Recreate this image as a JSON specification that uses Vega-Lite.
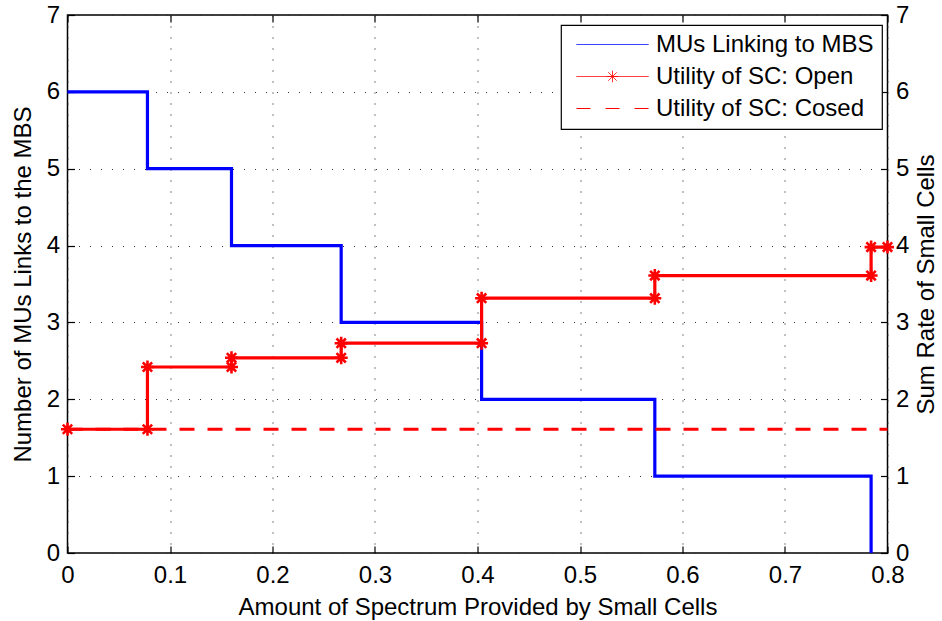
{
  "$schema": "https://vega.github.io/schema/vega-lite/v6.json",
  "width": 820,
  "height": 538,
  "autosize": {"type": "none"},
  "padding": {"left": 67.5, "top": 15, "right": 54.5, "bottom": 68},
  "background": "white",
  "config": {
    "font": "Liberation Sans",
    "view": {"stroke": "black", "strokeWidth": 1.5},
    "axis": {
      "domain": false,
      "labelFont": "Liberation Sans",
      "labelFontSize": 24,
      "labelColor": "black",
      "labelFlush": false,
      "labelOverlap": false,
      "titleFont": "Liberation Sans",
      "titleFontSize": 24,
      "titleFontWeight": "normal",
      "titleColor": "black",
      "tickColor": "black",
      "tickSize": -7,
      "tickWidth": 1.2,
      "labelPadding": 15,
      "gridColor": "#333333",
      "gridDash": [1, 10],
      "gridWidth": 1.2
    },
    "legend": {
      "orient": "none",
      "legendX": 493.5,
      "legendY": 10,
      "fillColor": "white",
      "strokeColor": "black",
      "strokeWidth": 1.2,
      "padding": 8,
      "labelFont": "Liberation Sans",
      "labelFontSize": 24,
      "labelColor": "black",
      "labelLimit": 400,
      "symbolType": "stroke",
      "symbolSize": 5184,
      "symbolStrokeWidth": 1,
      "symbolOffset": 7,
      "labelOffset": 7,
      "clipHeight": 23,
      "rowPadding": 7
    }
  },
  "datasets": {
    "mbs": [
      {"x": 0, "y": 6, "series": "MUs Linking to MBS"},
      {"x": 0.078, "y": 5, "series": "MUs Linking to MBS"},
      {"x": 0.16, "y": 4, "series": "MUs Linking to MBS"},
      {"x": 0.267, "y": 3, "series": "MUs Linking to MBS"},
      {"x": 0.404, "y": 2, "series": "MUs Linking to MBS"},
      {"x": 0.573, "y": 1, "series": "MUs Linking to MBS"},
      {"x": 0.784, "y": 0, "series": "MUs Linking to MBS"}
    ],
    "open": [
      {"i": 0, "x": 0, "y": 1.61, "series": "Utility of SC: Open"},
      {"i": 1, "x": 0.078, "y": 1.61, "series": "Utility of SC: Open"},
      {"i": 2, "x": 0.078, "y": 2.42, "series": "Utility of SC: Open"},
      {"i": 3, "x": 0.16, "y": 2.42, "series": "Utility of SC: Open"},
      {"i": 4, "x": 0.16, "y": 2.54, "series": "Utility of SC: Open"},
      {"i": 5, "x": 0.267, "y": 2.54, "series": "Utility of SC: Open"},
      {"i": 6, "x": 0.267, "y": 2.73, "series": "Utility of SC: Open"},
      {"i": 7, "x": 0.404, "y": 2.73, "series": "Utility of SC: Open"},
      {"i": 8, "x": 0.404, "y": 3.315, "series": "Utility of SC: Open"},
      {"i": 9, "x": 0.573, "y": 3.315, "series": "Utility of SC: Open"},
      {"i": 10, "x": 0.573, "y": 3.61, "series": "Utility of SC: Open"},
      {"i": 11, "x": 0.784, "y": 3.61, "series": "Utility of SC: Open"},
      {"i": 12, "x": 0.784, "y": 3.98, "series": "Utility of SC: Open"},
      {"i": 13, "x": 0.8, "y": 3.98, "series": "Utility of SC: Open"}
    ],
    "closed": [
      {"x": 0, "y": 1.61, "series": "Utility of SC: Cosed"},
      {"x": 0.8, "y": 1.61, "series": "Utility of SC: Cosed"}
    ]
  },
  "layer": [
    {
      "data": {"name": "mbs"},
      "mark": {"type": "line", "interpolate": "step-after", "strokeWidth": 3.2},
      "encoding": {
        "x": {
          "field": "x",
          "type": "quantitative",
          "scale": {"domain": [0, 0.8], "nice": false, "zero": false},
          "axis": {
            "title": "Amount of Spectrum Provided by Small Cells",
            "values": [0, 0.1, 0.2, 0.3, 0.4, 0.5, 0.6, 0.7, 0.8],
            "labelExpr": "format(datum.value, '.1~f')",
            "labelPadding": 17,
            "grid": true,
            "titlePadding": 8
          }
        },
        "y": {
          "field": "y",
          "type": "quantitative",
          "scale": {"domain": [0, 7], "nice": false},
          "axis": {
            "title": "Number of MUs Links to the MBS",
            "values": [0, 1, 2, 3, 4, 5, 6, 7],
            "labelExpr": "format(datum.value, 'd')",
            "grid": true,
            "titlePadding": 11
          }
        },
        "color": {
          "field": "series",
          "type": "nominal",
          "scale": {
            "domain": ["MUs Linking to MBS", "Utility of SC: Open", "Utility of SC: Cosed"],
            "range": ["#0000ff", "#ff0000", "#ff0000"]
          },
          "legend": {
            "title": null,
            "encode": {
              "symbols": {
                "update": {
                  "shape": {"signal": "datum.value === 'Utility of SC: Open' ? 'M-1,0L1,0M-0.16,0L0.16,0M0,-0.16L0,0.16M-0.115,-0.115L0.115,0.115M-0.115,0.115L0.115,-0.115' : 'M-1,0L1,0'"},
                  "strokeDash": {"signal": "datum.value === 'Utility of SC: Cosed' ? [14, 15] : [1, 0]"},
                  "strokeWidth": {"value": 1},
                  "fill": {"value": "transparent"}
                }
              }
            }
          }
        }
      }
    },
    {
      "layer": [
        {
          "data": {"name": "closed"},
          "mark": {"type": "line", "strokeWidth": 3.2, "strokeDash": [15, 13]},
          "encoding": {
            "x": {
              "field": "x",
              "type": "quantitative",
              "scale": {"domain": [0, 0.8], "nice": false, "zero": false},
              "axis": {
                "orient": "top",
                "title": null,
                "labels": false,
                "grid": false,
                "values": [0, 0.1, 0.2, 0.3, 0.4, 0.5, 0.6, 0.7, 0.8]
              }
            },
            "y": {
              "field": "y",
              "type": "quantitative",
              "scale": {"domain": [0, 7], "nice": false},
              "axis": {
                "orient": "right",
                "title": "Sum Rate of Small Cells",
                "titleAngle": 270,
                "titleBaseline": "top",
                "values": [0, 1, 2, 3, 4, 5, 6, 7],
                "labelExpr": "format(datum.value, 'd')",
                "grid": false,
                "titlePadding": 6
              }
            },
            "color": {
              "field": "series",
              "type": "nominal",
              "scale": {
                "domain": ["MUs Linking to MBS", "Utility of SC: Open", "Utility of SC: Cosed"],
                "range": ["#0000ff", "#ff0000", "#ff0000"]
              },
              "legend": {
                "title": null,
                "encode": {
                  "symbols": {
                    "update": {
                      "shape": {"signal": "datum.value === 'Utility of SC: Open' ? 'M-1,0L1,0M-0.16,0L0.16,0M0,-0.16L0,0.16M-0.115,-0.115L0.115,0.115M-0.115,0.115L0.115,-0.115' : 'M-1,0L1,0'"},
                      "strokeDash": {"signal": "datum.value === 'Utility of SC: Cosed' ? [14, 15] : [1, 0]"},
                      "strokeWidth": {"value": 1},
                      "fill": {"value": "transparent"}
                    }
                  }
                }
              }
            }
          }
        },
        {
          "data": {"name": "open"},
          "mark": {"type": "line", "strokeWidth": 3.2},
          "encoding": {
            "x": {"field": "x", "type": "quantitative"},
            "y": {"field": "y", "type": "quantitative"},
            "order": {"field": "i", "type": "quantitative"},
            "color": {
              "field": "series",
              "type": "nominal",
              "scale": {
                "domain": ["MUs Linking to MBS", "Utility of SC: Open", "Utility of SC: Cosed"],
                "range": ["#0000ff", "#ff0000", "#ff0000"]
              },
              "legend": {
                "title": null,
                "encode": {
                  "symbols": {
                    "update": {
                      "shape": {"signal": "datum.value === 'Utility of SC: Open' ? 'M-1,0L1,0M-0.16,0L0.16,0M0,-0.16L0,0.16M-0.115,-0.115L0.115,0.115M-0.115,0.115L0.115,-0.115' : 'M-1,0L1,0'"},
                      "strokeDash": {"signal": "datum.value === 'Utility of SC: Cosed' ? [14, 15] : [1, 0]"},
                      "strokeWidth": {"value": 1},
                      "fill": {"value": "transparent"}
                    }
                  }
                }
              }
            }
          }
        },
        {
          "data": {"name": "open"},
          "mark": {
            "type": "point",
            "shape": "M-1,0L1,0M0,-1L0,1M-0.72,-0.72L0.72,0.72M-0.72,0.72L0.72,-0.72",
            "filled": false,
            "stroke": "#ff0000",
            "strokeWidth": 2.6,
            "size": 169,
            "opacity": 1
          },
          "encoding": {
            "x": {"field": "x", "type": "quantitative"},
            "y": {"field": "y", "type": "quantitative"}
          }
        }
      ]
    }
  ],
  "resolve": {"axis": {"x": "independent", "y": "independent"}}
}
